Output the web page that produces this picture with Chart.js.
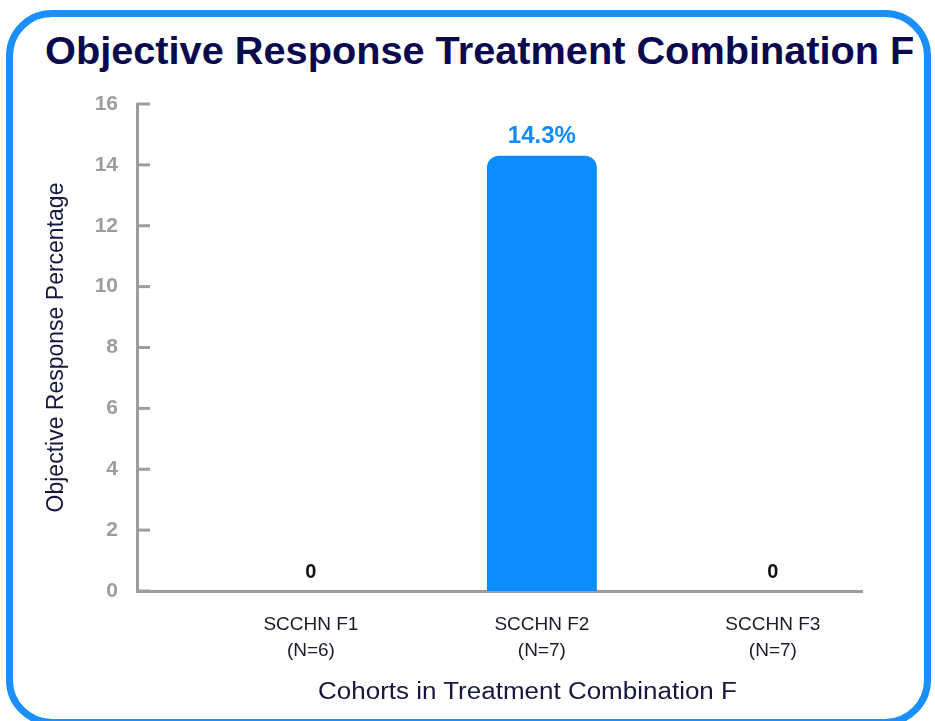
<!DOCTYPE html>
<html>
<head>
<meta charset="utf-8">
<script src="https://cdn.jsdelivr.net/npm/chart.js@4.4.1/dist/chart.umd.min.js"></script>
<style>
  html, body { margin: 0; padding: 0; background: #fff; }
  body { width: 935px; height: 721px; position: relative; overflow: hidden; font-family: "Liberation Sans", Arial, sans-serif; }
  .frame { position: absolute; left: 6px; top: 10px; right: 4px; bottom: -5px; border: 7px solid #1a90ff; border-radius: 46px; }
  .title { position: absolute; left: 45px; top: 30px; font-weight: bold; font-size: 38px; color: #0b0a4e; white-space: nowrap; transform: scaleX(1.045); transform-origin: left center; }
  .xtitle { position: absolute; left: 318px; top: 678px; font-size: 23px; color: #17173f; white-space: nowrap; transform: scaleX(1.13); transform-origin: left center; }
  #wrap { position: absolute; left: 0; top: 0; width: 935px; height: 721px; }
</style>
</head>
<body>
<div class="frame"></div>
<div class="title">Objective Response Treatment Combination F</div>
<div id="wrap"><canvas id="orrChart"></canvas></div>
<div class="xtitle">Cohorts in Treatment Combination F</div>
<script>
// data dari gambar
const cohortNames = ['SCCHN F1', 'SCCHN F2', 'SCCHN F3'];
const cohortN = [6, 7, 7];
const responsePct = [0, 14.3, 0];

const axisGrey = '#9d9d9d';
const barBlue = '#0d8cff';

// tick kecil ke arah dalam di sumbu Y
const innerTicks = {
  id: 'innerTicks',
  afterDraw(chart) {
    const { ctx, chartArea, scales } = chart;
    ctx.save();
    ctx.strokeStyle = axisGrey;
    ctx.lineWidth = 3;
    scales.y.ticks.forEach(t => {
      const y = scales.y.getPixelForValue(t.value);
      ctx.beginPath();
      ctx.moveTo(chartArea.left, y);
      ctx.lineTo(chartArea.left + 13, y);
      ctx.stroke();
    });
    ctx.restore();
  }
};

// label nilai di atas bar
const valueLabels = {
  id: 'valueLabels',
  afterDatasetsDraw(chart) {
    const { ctx } = chart;
    const meta = chart.getDatasetMeta(0);
    ctx.save();
    ctx.textAlign = 'center';
    ctx.textBaseline = 'alphabetic';
    meta.data.forEach((bar, i) => {
      const v = responsePct[i];
      const big = v > 0;
      ctx.font = `bold ${big ? 24 : 20}px "Liberation Sans", Arial, sans-serif`;
      ctx.fillStyle = big ? barBlue : '#111';
      ctx.fillText(big ? v.toFixed(1) + '%' : '0', bar.x, bar.y - 13);
    });
    ctx.restore();
  }
};

const ctx = document.getElementById('orrChart').getContext('2d');

new Chart(ctx, {
  type: 'bar',
  data: {
    datasets: [{
      data: responsePct.map((v, i) => ({ x: i, y: v })),
      backgroundColor: barBlue,
      borderRadius: { topLeft: 12, topRight: 12, bottomLeft: 0, bottomRight: 0 },
      borderSkipped: false,
      barPercentage: 0.476,
      categoryPercentage: 1
    }]
  },
  options: {
    responsive: true,
    maintainAspectRatio: false,
    animation: false,
    layout: { padding: { top: 104, left: 37, right: 73, bottom: 50 } },
    plugins: {
      legend: { display: false },
      tooltip: { enabled: false }
    },
    scales: {
      x: {
        type: 'linear',
        offset: false,
        min: -0.753,
        max: 2.386,
        grid: { display: false, drawTicks: false },
        border: { display: true, color: axisGrey, width: 3 },
        afterFit: s => { s.height = 80; },
        ticks: {
          stepSize: 1,
          includeBounds: false,
          autoSkip: false,
          maxRotation: 0,
          padding: 21,
          color: '#1b1b2b',
          font: { family: '"Liberation Sans", Arial, sans-serif', size: 19, lineHeight: 1.35 },
          callback: v => (Number.isInteger(v) && cohortNames[v]) ? [cohortNames[v], `(N=${cohortN[v]})`] : ''
        }
      },
      y: {
        min: 0,
        max: 16,
        grid: { display: false, drawTicks: false },
        border: { display: true, color: axisGrey, width: 3 },
        afterFit: s => { s.width = 100; },
        ticks: {
          stepSize: 2,
          padding: 19,
          color: axisGrey,
          font: { family: '"Liberation Sans", Arial, sans-serif', size: 21, weight: 'bold' }
        },
        title: {
          display: true,
          text: 'Objective Response Percentage',
          color: '#17173f',
          padding: { top: 6, bottom: 0 },
          font: { family: '"Liberation Sans", Arial, sans-serif', size: 23 }
        }
      }
    }
  },
  plugins: [innerTicks, valueLabels]
});
</script>
</body>
</html>
